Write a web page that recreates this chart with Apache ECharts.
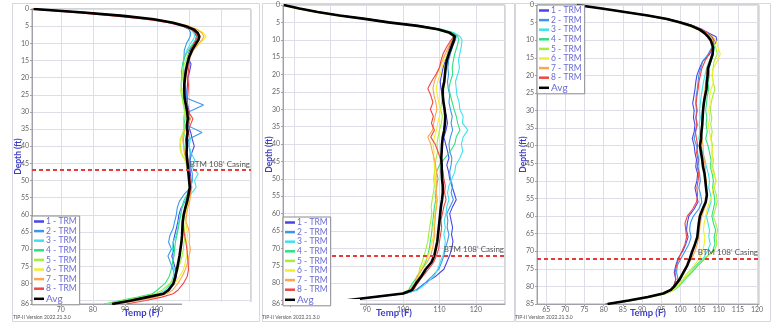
<!DOCTYPE html>
<html><head><meta charset="utf-8">
<script src="https://cdn.jsdelivr.net/npm/echarts@6/dist/echarts.min.js"></script>
<style>html,body{margin:0;padding:0;background:#fff}#c{width:772px;height:322px}</style>
</head><body><div id="c"></div>
<script>
// ---------- DATA ----------
const SERIES_NAMES = ['1 - TRM','2 - TRM','3 - TRM','4 - TRM','5 - TRM','6 - TRM','7 - TRM','8 - TRM','Avg'];
const CASING_LABEL = "BTM 108' Casing";
const CASING_DEPTHS = [47, 72, 72];
const VERSION_TEXT = 'TIP-II Version 2022.21.3.0';

// depth (ft) sample points
const P1_DEPTH = [0,1,2,3,4,5,6,7,8,9,10,12,14,16,18,20,22,24,26,28,30,32,34,36,38,40,42,44,46,48,50,52,54,56,58,60,62,64,66,68,70,72,74,76,78,80,82,83,84,85,86];
const P2_DEPTH = [0,1,2,3,4,5,6,7,8,9,10,12,14,16,18,20,22,24,26,28,30,32,34,36,38,40,42,44,46,48,50,52,54,56,58,60,62,64,66,68,70,72,74,76,78,80,82,83,84,85,86];
const P3_DEPTH = [0,1,2,3,4,5,6,7,8,9,10,12,14,16,18,20,22,24,26,28,30,32,34,36,38,40,42,44,46,48,50,52,54,56,58,60,62,64,66,68,70,72,74,76,78,80,81,82,83,84,85];

// Panel 1 temperatures (F)
const P1_TRM1 = [62,77.5,90,99,105,108.5,110.8,111.8,112.3,112,111.5, 110.2,109.5,110.6,110.2,109.6,109.5,109.3,109.2,109.6,110,110.2,109.8,110.5,111,111.6,110.8,110.3,110.2,110.4,110.6,110.8,110,108.8,107.5,106.8,106.5,106,105.5,105,105.3,104.6,105.2,105.8,106,105.5, 103.8,102,97.5,92,85.5];
const P1_TRM2 = [62.5,78,90,99,104.5,108,110,110.5,110.3,109.8,109.2, 108.5,108.4,108.2,108.4,108.6,108.8,109,109.3,114.5,109.8,109.5,109.6,114,109.8,110,110.4,110.2,110.5,111,111,110.5,108.5,107,106.3,106,105.5,105,104,103.6,104.5,103.4,104.2,105,105.5,105, 103.5,101.5,97,91.5,85];
const P1_TRM3 = [63,78,89.5,98.5,104.5,108.5,110.5,111.5,111.7,111.2,110.5, 109.3,108.6,108,108.3,108.1,108.4,108.6,108.8,109.4,109.3,109.1,109.4,109.8,110.4,110,110.6,111.8,110.8,112.8,111.7,112.2,110.5,108.6,107.8,107.3,106.8,106.4,106,105,104.8,105.2,104.8,105.4,105,104.3, 102.5,100.5,96,90.5,84.5];
const P1_TRM4 = [61.8,77,89,98.5,104.5,108.5,111,112.2,112.5,112,111.3, 109.8,108.6,108,107.6,107.7,107.5,107.8,108,108.3,108.8,108.7,108.4,108.6,108.2,108.4,108.5,109.3,109.6,109.8,110.1,110.3,109.4,108.3,107.7,107.4,107,106.6,106.2,105.7,105.5,105.3,104.8,104.4,103.8,102.5, 100,98.5,94,88.5,83.5];
const P1_TRM5 = [61.5,77,89.5,99,105,109.2,111.5,112.8,113.4,113,112.3, 110.6,109.4,108.5,108,107.9,107.6,107.4,107.8,108.2,108.6,108.2,108.4,108.1,107.2,107.3,107.6,108.8,109.4,109.7,110.2,110.5,110.1,109.5,109,108.6,108.3,108.5,108.8,108.4,108.2,107.8,107.2,106.5,105.5,104, 101.5,99.5,95,89.5,84];
const P1_TRM6 = [61.2,76.5,89.5,99.5,105.8,110,112.8,114.5,115.3,114.5,113.2, 111.2,110,109.3,108.8,108.6,108.4,108,108.2,108.7,109,109.3,109,108.6,107.5,107,107.5,108.6,109.3,109.8,110.3,110.6,110.4,110,109.4,108.9,108.8,109.3,109.5,109.2,109.6,109.2,108.8,108.2,107,105.5, 103.5,101.5,97.5,92,86.5];
const P1_TRM7 = [61,76,89,99,105.5,109.8,112.5,114,114.6,114,113, 111.4,110.3,109.8,109.3,109,108.8,108.6,108.8,109.2,109.5,110.5,109.4,108.3,108,108.3,108.6,109,109.5,110,110.4,110.8,110.5,110.2,109.6,109.2,109,109.8,110.2,110,110.4,110,109.5,108.8,107.8,106.5, 104.8,103,99.5,94,88];
const P1_TRM8 = [60.5,74,86.5,96.5,103.5,108,110.8,112.2,112.6,112.2,111.6, 110.6,110.2,110,109.8,109.6,109.8,109.7,109.5,109.4,109.8,111.2,110.3,109.8,109.5,109.4,109.3,109.6,109.8,110,110.3,110.6,110.2,109.6,109,108.4,108,108.2,108.6,109,109.3,109.5,109.7,109.8,109.4,108.2, 106.5,105,101.5,96.5,90.5];
const P1_AVG  = [61.5,77,89.5,99,105,109,111.5,112.7,113.2,112.9,112.2, 110.9,110,109.4,109,108.7,108.5,108.5,108.6,109,109.4,109.6,109.3,109.5,109.2,109.3,109.2,109.4,109.6,109.8,110,110.2,109.8,109.4,108.8,108.3,108,107.9,107.8,107.6,107.3,107,106.6,106.2,105.7,105.1, 103.5,102,97,92,86];

// Panel 2 temperatures (F)
const P2_TRM1 = [67.2,71.5,76.5,82.5,89.5,96,104,109.5,112.5,113.8,113.5, 112.8,112.2,111.6,111,110.6,110.2,110.4,110.8,111,111.4,111.9,112.2,111.8,111.2,111.7,112.2,112.6,112,112.5,112.8,113.4,114,114.6,113.6,112.8,113.2,113.6,113.3,113.7,113.4,112.8,112,111.2,109,106, 103.5,100.5,92.5,84.5,76.5];
const P2_TRM2 = [67.2,71.5,76.5,82.5,89.5,96,104.2,110,113.3,114.6,114.4, 113.6,113,112.5,112.3,112.5,112.2,112.4,112.8,112.6,113,113.5,113.2,113.6,113,112.6,112.8,113.4,113.2,112.8,113,113.6,113.2,113.8,112.9,112,112.3,112.1,112.6,112.2,111.6,111.2,110.6,109.8,108,106, 103.8,100.8,92.5,84.5,76.5];
const P2_TRM3 = [67.2,71.5,76.8,83,90,96.5,104.8,110.5,114,115.6,116.2, 116,115.6,115.2,115.5,115,114.4,114.6,114.8,115.4,115.6,116.5,116.3,117.8,116.5,116,116.4,115.6,114.5,114.2,113.4,112.6,112.2,112.6,112,111.8,111.3,111.6,111.2,111.6,111.4,111,110.2,109.5,108.5,106.5, 104,100.5,92.5,84.5,76.5];
const P2_TRM4 = [67.2,71.5,76.8,83,90,96.5,104.8,110.5,113.8,115,115.3, 114.8,114.2,113.8,113.5,113.6,113,112.6,113,113.5,114,114.6,115,115.6,114.6,114.2,113,111.5,110,109.2,109.6,109.2,108.8,109,108.6,108.4,108.2,108,107.8,107.5,107.2,106.8,106.2,105.2,104,102.6, 101.5,99.5,91.5,83.5,75.5];
const P2_TRM5 = [67,71,76,82,89,95.5,103.5,109,112.5,113.8,113.8, 113.2,112.5,112,111.5,111.3,111.6,111.2,110.8,110.6,110.3,110.8,110.5,110,109.6,109.3,109.5,109.1,108.8,108.6,108.4,108.6,108.3,108,107.7,107.9,107.6,107.3,107,106.8,106.3,105.8,105.2,104.5,104.2,103.2, 102,99.8,91.8,83.8,75.8];
const P2_TRM6 = [66.8,70.5,75.5,81.5,88.5,95.5,103.5,109.2,112.6,114,113.8, 113,112.2,111.3,110.6,110.2,109.5,109.1,109.4,109.8,110.2,110,109.5,109.2,108.6,108.2,108.5,108.3,108.6,108.8,108.6,108.9,109.1,109.3,109,108.8,108.5,108.2,108.4,108,107.5,107,105.8,104.8,104.4,103.4, 102,99.8,91.8,83.8,75.8];
const P2_TRM7 = [67,71.2,76.2,82.2,89.2,96,103.8,109.4,112.8,114,113.4, 112.5,111.6,110.8,110,109.3,108.6,108.2,108.5,109,109.3,108.8,108.4,108.1,106.8,107.6,108,108.5,108.9,109.2,109,109.3,109.1,109.4,109.2,108.9,108.8,108.6,108.7,108.4,108.1,107.6,106.6,105.2,103.8,103.2, 101.8,99.8,91.8,83.8,75.8];
const P2_TRM8 = [67.3,71.8,77,83,90,96.5,104.5,110,113,114,113.2, 112,111,110.4,110,109,107.8,106.8,107.6,108.2,107.5,108.3,107.8,108.6,107.6,108.8,109.5,110.2,110.6,111,111.2,111.6,111.4,111.8,111.2,110.8,110.4,110.6,110.3,110,109.8,109.2,108.4,107,105.4,104, 102.8,100.2,92.2,84.2,76.2];
const P2_AVG  = [67.2,71.5,76.5,82.5,89.5,96,104,109.5,112.8,114.2,114, 113.3,112.6,112,111.7,111.5,111.3,110.9,110.9,111.1,111.4,111.6,111.5,111.3,110.9,110.7,110.6,110.5,110.6,110.6,110.7,110.9,110.9,110.7,110.4,110.2,110,109.8,109.6,109.4,109,108.6,107.8,106.2,105,103.6, 102.4,100,92,84,76];

// Panel 3 temperatures (F)
const P3_TRM1 = [73,79.5,85.5,91.5,96.8,100.5,103.5,105.8,107.5,109.3,109.5, 108.5,107.6,105.8,105,104.3,104,103.8,103.5,103.2,103.6,103.4,103.8,103.6,103.1,103.6,103.8,104.2,104,104.5,104.3,103.8,104.2,104.6,103.6,102.2,101.8,101.6,102,101.4,100.6,99.4,98.8,98.4,98.8,98.2, 97.4,95.4,91.4,86.4,80.5];
const P3_TRM2 = [73,79.5,85.3,91.3,96.5,100.2,103.2,105.4,107,108.2,108.8, 108.2,107.2,105.8,105.3,104.8,104.6,104.4,104.1,104,104.2,104.1,104.4,104,103.6,104.2,104.5,104.8,104.6,105,105.2,104.8,105.3,105.6,104.8,103.4,102.6,102.4,102.8,102.2,101.2,100.2,99.2,99,99.4,98.6, 97.6,95.6,91.6,86.6,81];
const P3_TRM3 = [72.8,79.3,85.3,91.3,96.3,99.8,102.8,105,106.5,107.5,108.3, 108.8,108.5,107.5,106.8,106.4,106,105.7,105.4,105.2,105,105.2,104.9,105.1,104.8,105.4,105.8,106.4,106.8,107.3,107.6,107.4,107.9,108,107.4,106.8,107.2,107.6,107.4,107.8,107,106,104,102,100.6,99.2, 98,96,92,87,81.5];
const P3_TRM4 = [72.5,79,85,91,96,99.5,102.5,104.8,106.5,107.6,108.4, 108.8,108.6,108,107.5,107.6,107.2,107.4,107,106.8,106.6,106.9,106.7,107,106.6,107.2,107.6,108,107.8,108.3,108.6,108.4,108.8,109,108.6,108.2,108.6,109.2,108.8,109,108.4,106.5,104.6,103,101.2,99.6, 98.4,96.4,92.4,87.4,82];
const P3_TRM5 = [72.6,79,85,90.8,95.8,99.3,102.3,104.6,106.3,107.4,108.2, 109.2,109.6,108.8,108.5,108.3,108.6,109,108.4,108,107.8,108.2,107.9,108.3,108,108.4,108.2,108.6,108.4,108.9,109.2,108.8,109.4,109.6,109.1,108.6,109.2,109.7,109.3,109.5,108.8,106.2,104.2,102.6,101,99.4, 98.2,96.2,92.2,87.2,81.8];
const P3_TRM6 = [72.8,79.2,85.2,91.2,96.2,99.8,102.8,105.2,107,108.4,109.2, 109.8,110.4,109.6,108.6,108.2,108.6,108,107.6,107.8,107.4,107.7,107.3,107.6,107.9,108.2,108.5,108.3,108,108.6,109.4,108.6,108.2,107.6,107,106.6,106.2,106,106.4,106.2,105.8,105,103.6,102,100.6,99.2, 98.2,96.2,92.2,87.2,81.8];
const P3_TRM7 = [73,79.6,85.6,91.6,96.6,100.2,103.2,105.3,106.7,107.6,108.3, 108.6,108.2,107.6,107,106.8,106.6,106.4,106.2,106,105.8,105.6,105.8,105.4,105.6,105.9,106,106.2,106.5,106.4,106.8,106.6,107,106.8,106.2,105.6,105.2,105,104.8,104.4,103.8,103,101.8,100.6,99.6,98.6, 97.6,95.6,91.6,86.6,81];
const P3_TRM8 = [73.2,80,86,92,97,100.6,103.6,105.6,107.2,108.2,108.8, 108.4,107.4,106.4,105.6,105.2,104.8,104.6,104.3,104.1,104.4,104,104.3,103.9,104.2,104.5,104.2,104.6,104.4,104.8,104.6,104.3,104.5,104.2,103.2,101.8,101.2,101.4,101.6,101.2,100.4,99.6,99,98.6,98.8,98.3, 97.4,95.4,91.4,86.4,80.5];
const P3_AVG  = [73,79.5,85.5,91.5,96.5,100,103,105,106.3,107.2,107.9, 108.5,108.4,107.8,107.2,107.1,106.9,106.8,106.4,106.1,105.9,105.8,105.7,105.5,105.4,105.1,105.4,105.7,105.9,106.3,106.5,106.7,106.9,106.6,105.8,105.1,104.8,104.6,104.4,103.8,103.1,102.5,101.8,100.8,99.8,98.4, 97.5,95.5,91.5,86.5,81];

// ---------- STYLE / LAYOUT ----------
const COLORS = ['#4646ea','#3c96ec','#3ee2ee','#2fe07f','#a4ee3c','#f2ee2e','#ffa54a','#ef4545','#000000'];
const FONT = 'Lato, "Noto Sans", sans-serif';
const BLUE_TEXT = '#3c3cc8';

const PANELS = [
  {depth:P1_DEPTH, trm:[P1_TRM1,P1_TRM2,P1_TRM3,P1_TRM4,P1_TRM5,P1_TRM6,P1_TRM7,P1_TRM8], avg:P1_AVG,
   grid:{left:32,top:9,width:219,height:295}, xMin:61, xMax:129.3, xSplit:7, yMax:86, legend:{left:32,top:216}},
  {depth:P2_DEPTH, trm:[P2_TRM1,P2_TRM2,P2_TRM3,P2_TRM4,P2_TRM5,P2_TRM6,P2_TRM7,P2_TRM8], avg:P2_AVG,
   grid:{left:283,top:5,width:222,height:299}, xMin:67, xMax:128, xSplit:6, yMax:86, legend:{left:283,top:217}},
  {depth:P3_DEPTH, trm:[P3_TRM1,P3_TRM2,P3_TRM3,P3_TRM4,P3_TRM5,P3_TRM6,P3_TRM7,P3_TRM8], avg:P3_AVG,
   grid:{left:537,top:5,width:222,height:299}, xMin:62.6, xMax:120.5, xSplit:12, yMax:85, legend:{left:537,top:5}}
];

const grids = [], xAxes = [], yAxes = [], series = [], legends = [];
PANELS.forEach((p, i) => {
  grids.push(Object.assign({show:true, backgroundColor:'#fff', borderColor:'#a8a8b0', borderWidth:1,
    containLabel:false, outerBoundsMode:'none'}, p.grid));
  xAxes.push({
    type:'value', gridIndex:i, min:p.xMin, max:p.xMax, splitNumber:p.xSplit,
    name:'Temp (F)', nameLocation:'middle', nameGap:4, nameMoveOverlap:false,
    nameTextStyle:{color:BLUE_TEXT, fontWeight:'bold', fontSize:9.5, fontFamily:FONT, verticalAlign:'top'},
    axisLine:{show:true, onZero:false, lineStyle:{color:'#a0a0a8'}},
    axisTick:{show:true, length:2, lineStyle:{color:'#a0a0a8'}},
    axisLabel:{color:'#666', fontSize:7, margin:2, fontFamily:FONT, showMinLabel:false, showMaxLabel:false},
    splitLine:{show:true, lineStyle:{color:'#dedee8', width:1}}
  });
  yAxes.push({
    type:'value', gridIndex:i, inverse:true, min:0, max:p.yMax, interval:5,
    name:'Depth (ft)', nameLocation:'middle', nameGap:9.5, nameMoveOverlap:false,
    nameTextStyle:{color:BLUE_TEXT, fontWeight:'bold', fontSize:8.5, fontFamily:FONT},
    axisLine:{show:true, lineStyle:{color:'#a0a0a8'}},
    axisTick:{show:true, length:2, lineStyle:{color:'#a0a0a8'}},
    axisLabel:{color:'#666', fontSize:7, margin:3, fontFamily:FONT,
      formatter: v => (p.yMax === 86 && v === 85) ? '' : String(v)},
    splitLine:{show:true, lineStyle:{color:'#dedee8', width:1}}
  });
  const all = p.trm.concat([p.avg]);
  all.forEach((vals, k) => {
    const s = {
      type:'line', name:SERIES_NAMES[k], xAxisIndex:i, yAxisIndex:i,
      data: p.depth.map((d, j) => [vals[j], d]),
      showSymbol:false, symbol:'none', animation:false, silent:true,
      lineStyle:{width: k === 8 ? 2.6 : 1.1, color:COLORS[k]},
      itemStyle:{color:COLORS[k]}, z: k === 8 ? 2.5 : 2
    };
    if (k === 8) {
      s.markLine = {
        silent:true, symbol:'none', animation:false,
        lineStyle:{color:'#e83a3a', type:[4,3], width:2},
        label:{formatter:CASING_LABEL, position:'insideEndTop', color:'#555', fontSize:8, fontFamily:FONT, distance:[1,2]},
        data:[{yAxis:CASING_DEPTHS[i]}]
      };
    }
    series.push(s);
  });
  legends.push({
    orient:'vertical', left:p.legend.left, top:p.legend.top, z:6,
    data:SERIES_NAMES.map((n, k) => k === 8 ? {name:n, textStyle:{fontSize:10}} : n),
    backgroundColor:'#fff', borderColor:'#8a8a90', borderWidth:1, padding:[1,3,1,2],
    itemGap:0.6, itemWidth:10, itemHeight:2.5, icon:'rect', selectedMode:false,
    textStyle:{color:'#6a6ad4', fontSize:8.5, lineHeight:9, fontFamily:FONT, padding:[0,0,0,-3]}
  });
});

const graphics = [];
// panel frames
[[12,3,247,318],[262,3,252,318],[515,3,255,318]].forEach(r => graphics.push({
  type:'rect', shape:{x:r[0]+0.5,y:r[1]+0.5,width:r[2],height:r[3]}, style:{fill:'none', stroke:'#d6d6dc', lineWidth:1}, z:0, silent:true}));
// version texts
[13, 262, 515].forEach(x => graphics.push({type:'text', left:x, top:315, z:10, silent:true,
  style:{text:VERSION_TEXT, fontSize:5, fill:'#555', fontFamily:FONT}}));
// white masks over the bottom labels (below legends)
graphics.push({type:'rect', shape:{x:182,y:302,width:71,height:10}, style:{fill:'#fff'}, z:5, silent:true});
graphics.push({type:'rect', shape:{x:291,y:299,width:69,height:13}, style:{fill:'#fff'}, z:5, silent:true});

const chart = echarts.init(document.getElementById('c'), null, {renderer:'canvas'});
chart.setOption({
  animation:false, backgroundColor:'#fff', textStyle:{fontFamily:FONT},
  grid:grids, xAxis:xAxes, yAxis:yAxes, series:series, legend:legends, graphic:graphics
});
</script></body></html>
